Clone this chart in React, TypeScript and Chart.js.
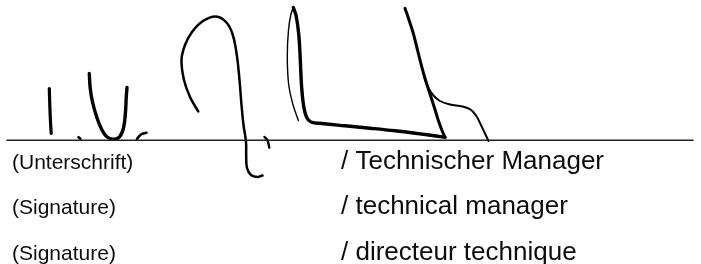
import React, { useEffect, useRef } from "react";
import { Chart, registerables } from "chart.js";

Chart.register(...registerables);

// Signature strokes, traced in picture coordinates (x right, y down)
const strokeI = [
  { x: 49.3, y: 88.5 }, { x: 49.8, y: 105 }, { x: 50.4, y: 120 }, { x: 51.2, y: 133.5 },
];
const strokeDot = [
  { x: 78.5, y: 137.2 }, { x: 80.5, y: 138.8 },
];
const strokeU = [
  { x: 89.3, y: 73.5 }, { x: 90.2, y: 88 }, { x: 92.5, y: 102 }, { x: 96.7, y: 117 },
  { x: 101.5, y: 129 }, { x: 106.5, y: 136.5 }, { x: 113, y: 139.2 }, { x: 119.5, y: 136.8 },
  { x: 123.5, y: 128 }, { x: 125.5, y: 112 }, { x: 126.2, y: 98 }, { x: 127, y: 87.5 },
];
const strokeComma1 = [
  { x: 146.5, y: 132.8 }, { x: 141, y: 134.5 }, { x: 137, y: 138.8 },
];
const strokeArc = [
  { x: 198.3, y: 111.5 }, { x: 190, y: 97 }, { x: 184, y: 80 }, { x: 181.5, y: 60 },
  { x: 185, y: 45 }, { x: 192, y: 32 }, { x: 203, y: 21 }, { x: 216, y: 16.5 },
  { x: 226, y: 22 }, { x: 232.5, y: 34 }, { x: 236.8, y: 55 }, { x: 239.5, y: 80 },
  { x: 241.5, y: 105 }, { x: 243.5, y: 125 }, { x: 246, y: 142 }, { x: 246.2, y: 156 },
  { x: 247, y: 168 }, { x: 251, y: 175 }, { x: 257.5, y: 177 }, { x: 262.5, y: 175.5 },
];
const strokeComma2 = [
  { x: 264.5, y: 137 }, { x: 267.5, y: 140.5 }, { x: 269.3, y: 147.5 },
];
const strokeLoopUp = [
  { x: 298.3, y: 120.5 }, { x: 292.5, y: 103 }, { x: 288.5, y: 83 }, { x: 287.3, y: 55 },
  { x: 288.5, y: 30 }, { x: 291, y: 14 }, { x: 293.3, y: 7.5 },
];
const strokeLoopDown = [
  { x: 293.3, y: 7.5 }, { x: 296.2, y: 16 }, { x: 298.8, y: 35 }, { x: 300.3, y: 60 },
  { x: 301.5, y: 85 }, { x: 303.5, y: 105 }, { x: 306.5, y: 117 }, { x: 311, y: 122 },
  { x: 322, y: 123.5 }, { x: 345, y: 125.8 }, { x: 370, y: 128.2 }, { x: 395, y: 130.8 },
  { x: 418, y: 133.6 }, { x: 436, y: 136 }, { x: 445, y: 137.3 },
];
const strokeTall = [
  { x: 405, y: 8.3 }, { x: 409, y: 20 }, { x: 413.3, y: 33.3 }, { x: 417.5, y: 50 },
  { x: 421.7, y: 66.7 }, { x: 425.5, y: 80 }, { x: 430, y: 94 }, { x: 434.5, y: 108 },
  { x: 438.5, y: 121 }, { x: 442, y: 130.5 }, { x: 445, y: 137.3 },
];
const strokeBranch = [
  { x: 424.5, y: 78 }, { x: 428, y: 87 }, { x: 433, y: 95 }, { x: 440, y: 101 },
  { x: 450, y: 104.5 }, { x: 462.5, y: 106.5 }, { x: 470.5, y: 109.5 }, { x: 476, y: 115.5 },
  { x: 480.5, y: 124 }, { x: 485, y: 133.5 }, { x: 488.5, y: 141 },
];
const baseLine = [
  { x: 7, y: 140.3 }, { x: 693, y: 140.3 },
];

// Texts
const leftLabels = ["(Unterschrift)", "(Signature)", "(Signature)"];
const rightLabels = ["/ Technischer Manager", "/ technical manager", "/ directeur technique"];

const labelPlugin = {
  id: "signatureLabels",
  afterDraw(chart: any) {
    const ctx = chart.ctx;
    const xs = chart.scales.x;
    const ys = chart.scales.y;
    const baselines = [168.5, 214, 259.5];
    ctx.save();
    ctx.fillStyle = "#0d0d0d";
    ctx.textBaseline = "alphabetic";
    ctx.textAlign = "left";
    leftLabels.forEach((t, i) => {
      ctx.font = "21px 'Liberation Sans', Arial, sans-serif";
      ctx.fillText(t, xs.getPixelForValue(12), ys.getPixelForValue(baselines[i]));
    });
    rightLabels.forEach((t, i) => {
      ctx.font = "26px 'Liberation Sans', Arial, sans-serif";
      ctx.fillText(t, xs.getPixelForValue(341), ys.getPixelForValue(baselines[i]));
    });
    ctx.restore();
  },
};

function ds(data: { x: number; y: number }[], width: number, color = "#000000", tension = 0.4) {
  return {
    data,
    showLine: true,
    borderColor: color,
    backgroundColor: color,
    borderWidth: width,
    pointRadius: 0,
    tension,
    borderCapStyle: "round" as const,
    borderJoinStyle: "round" as const,
    fill: false,
    clip: false as any,
  };
}

export default function App() {
  const ref = useRef<HTMLCanvasElement | null>(null);
  useEffect(() => {
    if (!ref.current) return;
    const chart = new Chart(ref.current, {
      type: "scatter",
      data: {
        datasets: [
          ds(baseLine, 1.6, "#222222", 0),
          ds(strokeI, 3.2),
          ds(strokeDot, 2.6),
          ds(strokeU, 3.4),
          ds(strokeComma1, 2.6),
          ds(strokeArc, 2.5),
          ds(strokeComma2, 2.4),
          ds(strokeLoopUp, 1.4),
          ds(strokeLoopDown, 3.4),
          ds(strokeTall, 3.0),
          ds(strokeBranch, 2.0),
        ],
      },
      options: {
        animation: false,
        responsive: false,
        devicePixelRatio: 1,
        layout: { padding: 0 },
        plugins: { legend: { display: false }, tooltip: { enabled: false } },
        events: [],
        scales: {
          x: { type: "linear", min: 0, max: 701, display: false },
          y: { type: "linear", min: 0, max: 264, reverse: true, display: false },
        },
      },
      plugins: [labelPlugin],
    });
    return () => chart.destroy();
  }, []);
  return (
    <div style={{ position: "fixed", left: 0, top: 0, width: 701, height: 264, background: "#ffffff" }}>
      <canvas ref={ref} width={701} height={264} style={{ display: "block", width: 701, height: 264 }} />
    </div>
  );
}
